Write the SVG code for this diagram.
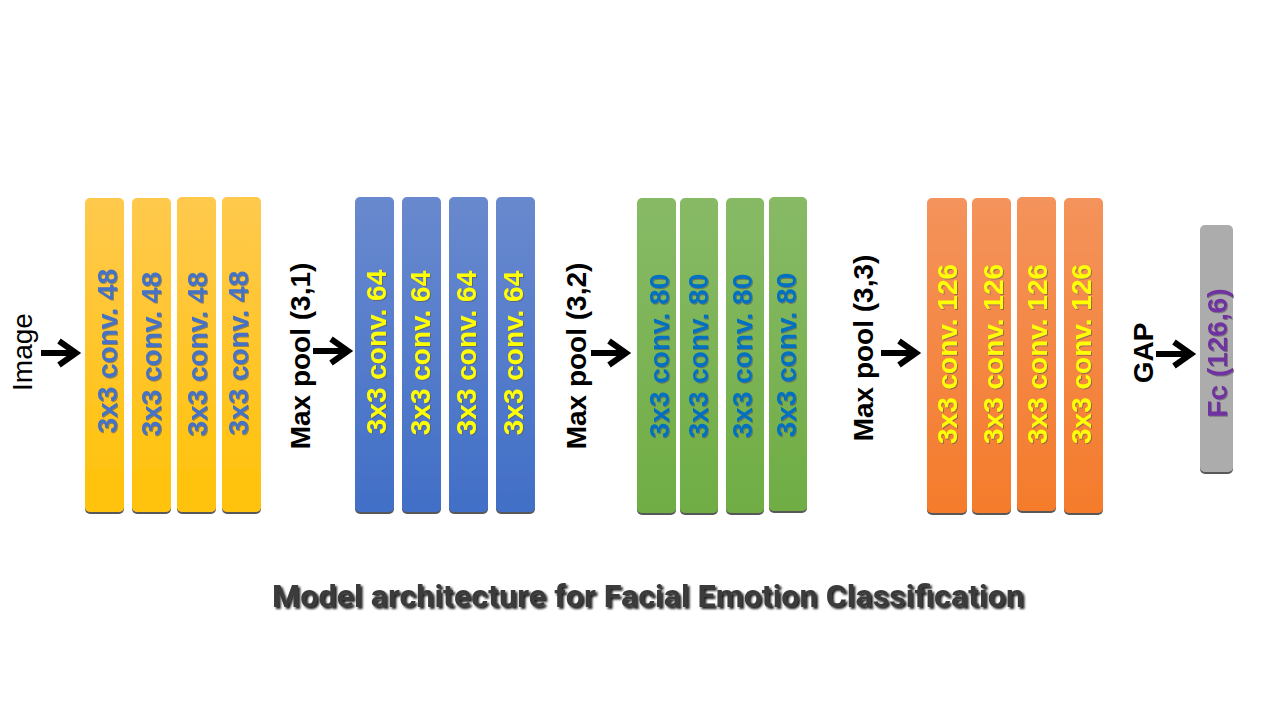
<svg xmlns="http://www.w3.org/2000/svg" xmlns:xlink="http://www.w3.org/1999/xlink" width="1285" height="727" viewBox="0 0 1285 727">
<style>
.bar{filter:url(#barsh)}
.bt{font-family:"Liberation Sans",Arial,sans-serif;font-weight:bold;font-size:28px;text-anchor:middle}
.lab{font-family:"Liberation Sans",Arial,sans-serif;font-size:28px;text-anchor:middle;fill:#000}
.b{font-weight:bold}
.ty{fill:#4472C4}
.tb{fill:#FFFF00}
.tg{fill:#0070C0}
.to{fill:#FFFF00}
.tf{fill:#7030A0}
.title{font-family:Roboto,"Liberation Sans",sans-serif;font-weight:bold;font-size:32px;text-anchor:middle;fill:#3a3a3a}
</style>
<defs>
<linearGradient id="gy" x1="0" y1="0" x2="0" y2="1"><stop offset="0" stop-color="#FFC94D"/><stop offset="1" stop-color="#FFC208"/></linearGradient>
<linearGradient id="gb" x1="0" y1="0" x2="0" y2="1"><stop offset="0" stop-color="#6989CE"/><stop offset="1" stop-color="#416FC7"/></linearGradient>
<linearGradient id="gg" x1="0" y1="0" x2="0" y2="1"><stop offset="0" stop-color="#88BA66"/><stop offset="1" stop-color="#6FAD44"/></linearGradient>
<linearGradient id="go" x1="0" y1="0" x2="0" y2="1"><stop offset="0" stop-color="#F4935C"/><stop offset="1" stop-color="#F47B2B"/></linearGradient>
<filter id="barsh" x="-10%" y="-5%" width="120%" height="110%"><feDropShadow dx="0" dy="2" stdDeviation="0.6" flood-color="#444" flood-opacity="0.9"/></filter>
<filter id="tsh" x="-10%" y="-10%" width="120%" height="120%"><feDropShadow dx="1" dy="1" stdDeviation="0.5" flood-color="#555" flood-opacity="0.6"/></filter>
<filter id="titsh" x="-5%" y="-20%" width="110%" height="150%"><feDropShadow dx="2" dy="2" stdDeviation="0.8" flood-color="#000" flood-opacity="0.9"/></filter>
<g id="arr"><path d="M-41 0H-7M-23 -12L-6 0L-23 12" fill="none" stroke="#000" stroke-width="6" stroke-linejoin="miter"/></g>
</defs>
<rect width="1285" height="727" fill="#fff"/>

<g id="image-label"><text class="lab" transform="translate(32,352) rotate(-90)">Image</text></g>

<g id="conv48">
<rect class="bar" x="85" y="198" width="39" height="314" rx="5" fill="url(#gy)"/>
<rect class="bar" x="132" y="198" width="39" height="314" rx="5" fill="url(#gy)"/>
<rect class="bar" x="177" y="197" width="39" height="315" rx="5" fill="url(#gy)"/>
<rect class="bar" x="222" y="197" width="39" height="315" rx="5" fill="url(#gy)"/>
<g filter="url(#tsh)">
<text class="bt ty" transform="translate(117,351) rotate(-90)">3x3 conv. 48</text>
<text class="bt ty" transform="translate(161,354) rotate(-90)">3x3 conv. 48</text>
<text class="bt ty" transform="translate(207,354) rotate(-90)">3x3 conv. 48</text>
<text class="bt ty" transform="translate(248,353) rotate(-90)">3x3 conv. 48</text>
</g>
</g>

<g id="maxpool1"><text class="lab b" transform="translate(310,356) rotate(-90)">Max pool (3,1)</text></g>

<g id="conv64">
<rect class="bar" x="355" y="197" width="39" height="315" rx="5" fill="url(#gb)"/>
<rect class="bar" x="402" y="197" width="39" height="315" rx="5" fill="url(#gb)"/>
<rect class="bar" x="449" y="197" width="39" height="315" rx="5" fill="url(#gb)"/>
<rect class="bar" x="496" y="197" width="39" height="315" rx="5" fill="url(#gb)"/>
<g filter="url(#tsh)">
<text class="bt tb" transform="translate(386,352) rotate(-90)">3x3 conv. 64</text>
<text class="bt tb" transform="translate(430,353) rotate(-90)">3x3 conv. 64</text>
<text class="bt tb" transform="translate(476,353) rotate(-90)">3x3 conv. 64</text>
<text class="bt tb" transform="translate(523,353) rotate(-90)">3x3 conv. 64</text>
</g>
</g>

<g id="maxpool2"><text class="lab b" transform="translate(586,356) rotate(-90)">Max pool (3,2)</text></g>

<g id="conv80">
<rect class="bar" x="637" y="198" width="39" height="315" rx="5" fill="url(#gg)"/>
<rect class="bar" x="680" y="198" width="38" height="315" rx="5" fill="url(#gg)"/>
<rect class="bar" x="726" y="198" width="38" height="315" rx="5" fill="url(#gg)"/>
<rect class="bar" x="769" y="197" width="38" height="314" rx="5" fill="url(#gg)"/>
<g filter="url(#tsh)">
<text class="bt tg" transform="translate(669,356) rotate(-90)">3x3 conv. 80</text>
<text class="bt tg" transform="translate(708,356) rotate(-90)">3x3 conv. 80</text>
<text class="bt tg" transform="translate(752,356) rotate(-90)">3x3 conv. 80</text>
<text class="bt tg" transform="translate(796,355) rotate(-90)">3x3 conv. 80</text>
</g>
</g>

<g id="maxpool3"><text class="lab b" transform="translate(873,348) rotate(-90)">Max pool (3,3)</text></g>

<g id="conv126">
<rect class="bar" x="927" y="198" width="40" height="315" rx="5" fill="url(#go)"/>
<rect class="bar" x="972" y="198" width="39" height="315" rx="5" fill="url(#go)"/>
<rect class="bar" x="1017" y="197" width="39" height="314" rx="5" fill="url(#go)"/>
<rect class="bar" x="1064" y="198" width="39" height="315" rx="5" fill="url(#go)"/>
<g filter="url(#tsh)">
<text class="bt to" transform="translate(957,354) rotate(-90)">3x3 conv. 126</text>
<text class="bt to" transform="translate(1003,354) rotate(-90)">3x3 conv. 126</text>
<text class="bt to" transform="translate(1047,354) rotate(-90)">3x3 conv. 126</text>
<text class="bt to" transform="translate(1091,354) rotate(-90)">3x3 conv. 126</text>
</g>
</g>

<g id="gap-label"><text class="lab b" transform="translate(1153,353) rotate(-90)" font-size="24">GAP</text></g>

<g id="fc">
<rect class="bar" x="1200" y="225" width="33" height="247" rx="5" fill="#ACACAC"/>
<g filter="url(#tsh)"><text class="bt tf" transform="translate(1227,353) rotate(-90)">Fc (126,6)</text></g>
</g>

<g id="connectors">
<use xlink:href="#arr" transform="translate(82,353)"/>
<use xlink:href="#arr" transform="translate(354,351)"/>
<use xlink:href="#arr" transform="translate(632,353)"/>
<use xlink:href="#arr" transform="translate(922,353)"/>
<use xlink:href="#arr" transform="translate(1197,354)"/>
</g>

<g id="title"><text class="title" x="648" y="607" textLength="752" lengthAdjust="spacingAndGlyphs" filter="url(#titsh)">Model architecture for Facial Emotion Classification</text></g>
</svg>
